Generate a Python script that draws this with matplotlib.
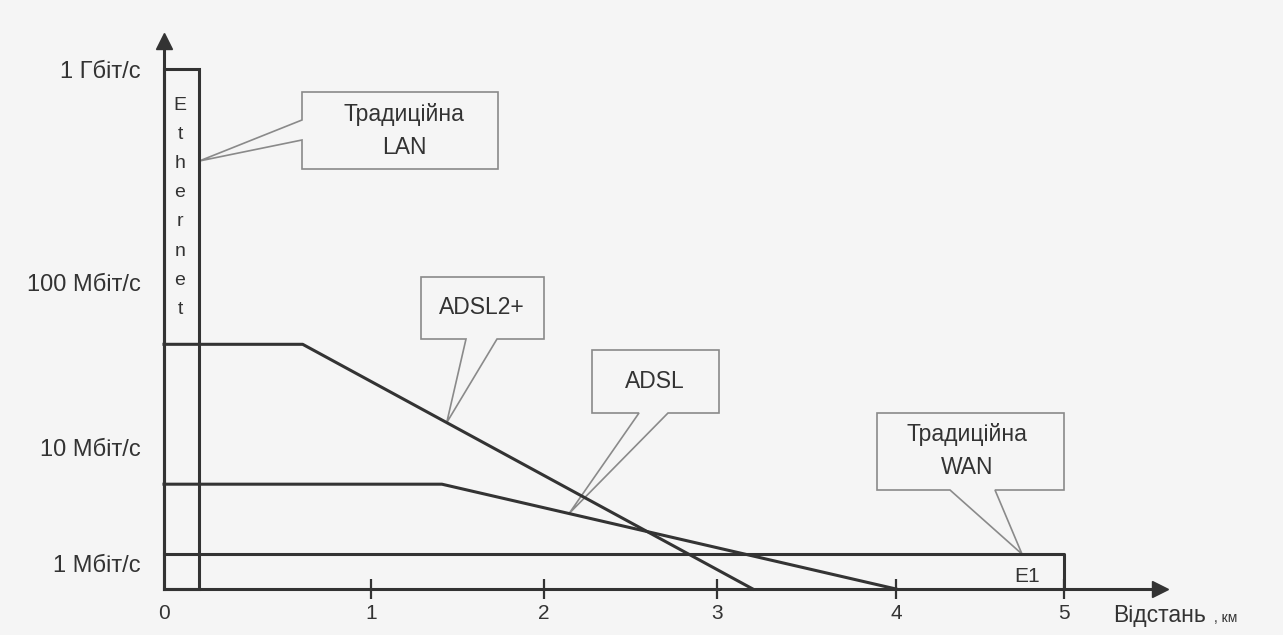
import numpy as np
import matplotlib.pyplot as plt
from matplotlib.patches import Rectangle, Polygon

plt.rcParams['font.family'] = ['Liberation Sans', 'DejaVu Sans']

W, H = 1283, 635
INK = '#333333'
THIN = '#8a8a8a'

# --- data (km, Mbit/s) ---
km_ticks = [0, 1, 2, 3, 4, 5]
rate_ticks = [1, 10, 100, 1000]
rate_labels = ['1 Мбіт/с', '10 Мбіт/с', '100 Мбіт/с', '1 Гбіт/с']
rate_floor = 0.6

eth_km = 0.17
eth_rate = 1000

adsl2_km = [0, 0.67, 3.2]
adsl2_rate = [42, 42, rate_floor]

adsl_km = [0, 1.41, 4.0]
adsl_rate = [4.8, 4.8, rate_floor]

e1_km = [0, 5, 5]
e1_rate = [1.2, 1.2, rate_floor]

lan_tip = (eth_km, 370)
wan_tip = (4.75, 1.2)

# hand-drawn axes are not evenly spaced: piecewise scale through the tick marks
x_knots_km = [-1, 0, 1, 2, 3, 4, 5, 6]
x_knots_px = [-43, 164, 371, 544, 717, 896, 1064, 1232]
y_knots_log = [-1, 0, 1, 2, 3, 4]
y_knots_h = [-90, 26, 142, 307, 520, 730]


def x_fwd(x):
    return np.interp(x, x_knots_km, x_knots_px)


def x_inv(p):
    return np.interp(p, x_knots_px, x_knots_km)


def y_fwd(v):
    return np.interp(np.log10(np.maximum(v, 1e-9)), y_knots_log, y_knots_h)


def y_inv(h):
    return 10 ** np.interp(h, y_knots_h, y_knots_log)


def fr(x, y):
    # image pixel (top-left origin) -> figure fraction
    return (x / W, 1 - y / H)


fig = plt.figure(figsize=(W / 100, H / 100), dpi=100, facecolor='#f5f5f5')
x0, x1, yb, yt = 164, 1160, 589, 41
ax = fig.add_axes([x0 / W, (H - yb) / H, (x1 - x0) / W, (yb - yt) / H])
ax.patch.set_visible(False)

ax.set_xscale('function', functions=(x_fwd, x_inv))
ax.set_yscale('function', functions=(y_fwd, y_inv))
ax.set_xlim(0, float(x_inv(x1)))
ax.set_ylim(rate_floor, float(y_inv(yb - yt)))

for s in ['top', 'right']:
    ax.spines[s].set_visible(False)
for s in ['left', 'bottom']:
    ax.spines[s].set_linewidth(2.2)
    ax.spines[s].set_color(INK)
ax.plot(1, 0, '>', ms=11, color=INK, transform=ax.transAxes, clip_on=False)
ax.plot(0, 1, '^', ms=11, color=INK, transform=ax.transAxes, clip_on=False)

ax.minorticks_off()
ax.set_xticks(km_ticks)
ax.set_xticklabels([str(k) for k in km_ticks], fontsize=15, color=INK)
ax.tick_params(axis='x', direction='inout', length=14, width=1.6, color=INK, pad=4)
ax.xaxis.get_major_ticks()[0].tick1line.set_visible(False)
ax.set_yticks(rate_ticks)
ax.set_yticklabels(rate_labels, fontsize=17, color=INK)
ax.tick_params(axis='y', length=0, pad=17)

lw = 2.2
ax.add_patch(Rectangle((0, rate_floor), eth_km, eth_rate - rate_floor,
                       fill=False, ec=INK, lw=lw, zorder=3, clip_on=False))
ax.plot(adsl2_km, adsl2_rate, color=INK, lw=lw, zorder=3, clip_on=False)
ax.plot(adsl_km, adsl_rate, color=INK, lw=lw, zorder=3, clip_on=False)
ax.plot(e1_km, e1_rate, color=INK, lw=lw, zorder=3, clip_on=False)

for i, ch in enumerate('Ethernet'):
    fig.text(*fr(180, 105 + 29.2 * i), ch, fontsize=14, color=INK,
             ha='center', va='center')
fig.text(*fr(1027, 577), 'E1', fontsize=15, color=INK, ha='center', va='center')


def to_img(pt):
    d = ax.transData.transform(pt)
    return (d[0], H - d[1])


def on_seg(xs, ys, i, t):
    a = np.array(to_img((xs[i], ys[i])))
    b = np.array(to_img((xs[i + 1], ys[i + 1])))
    return tuple(a + t * (b - a))


def bubble(pts):
    ax.add_patch(Polygon([fr(*p) for p in pts], closed=True, fill=False,
                         ec=THIN, lw=1.2, transform=fig.transFigure,
                         zorder=2, clip_on=False))


# Традиційна LAN (attached on the left side)
bx0, by0, bx1, by1 = 302, 92, 498, 169
tip = to_img(lan_tip)
bubble([(bx0, 120), tip, (bx0, 140), (bx0, by1), (bx1, by1), (bx1, by0), (bx0, by0)])
fig.text(*fr(404, 114), 'Традиційна', fontsize=16.5, color=INK, ha='center', va='center')
fig.text(*fr(404, 147), 'LAN', fontsize=16.5, color=INK, ha='center', va='center')

# ADSL2+
bx0, by0, bx1, by1 = 421, 277, 544, 339
tip = on_seg(adsl2_km, adsl2_rate, 1, 0.32)
bubble([(466, by1), tip, (497, by1), (bx1, by1), (bx1, by0), (bx0, by0), (bx0, by1)])
fig.text(*fr(482, 307), 'ADSL2+', fontsize=16.5, color=INK, ha='center', va='center')

# ADSL
bx0, by0, bx1, by1 = 592, 350, 719, 413
tip = on_seg(adsl_km, adsl_rate, 1, 0.28)
bubble([(639, by1), tip, (668, by1), (bx1, by1), (bx1, by0), (bx0, by0), (bx0, by1)])
fig.text(*fr(655, 382), 'ADSL', fontsize=16.5, color=INK, ha='center', va='center')

# Традиційна WAN
bx0, by0, bx1, by1 = 877, 413, 1064, 490
tip = to_img(wan_tip)
bubble([(950, by1), tip, (995, by1), (bx1, by1), (bx1, by0), (bx0, by0), (bx0, by1)])
fig.text(*fr(967, 435), 'Традиційна', fontsize=16.5, color=INK, ha='center', va='center')
fig.text(*fr(967, 468), 'WAN', fontsize=16.5, color=INK, ha='center', va='center')

fig.text(*fr(1113, 622), 'Відстань', fontsize=16.5, color=INK, ha='left', va='baseline')
fig.text(*fr(1214, 622), ', км', fontsize=10, color=INK, ha='left', va='baseline')

fig.savefig('out.png', dpi=100, facecolor=fig.get_facecolor())
